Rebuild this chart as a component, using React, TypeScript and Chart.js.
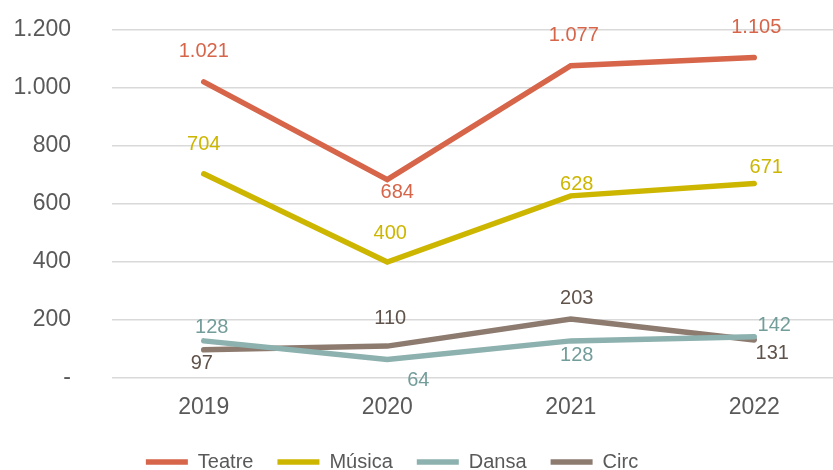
import React, { useEffect, useRef } from "react";
import { Chart, registerables } from "chart.js";

Chart.register(...registerables);

const categories = ["2019", "2020", "2021", "2022"];
const teatre = [1021, 684, 1077, 1105];
const musica = [704, 400, 628, 671];
const dansa = [128, 64, 128, 142];
const circ = [97, 110, 203, 131];
const yTicks = [0, 200, 400, 600, 800, 1000, 1200];

const FONT = "'Liberation Sans', Arial, sans-serif";

// label offsets (dx, dy) relative to each point, styling only
const labelOffsets: Record<string, [number, number][]> = {
  Teatre: [[0, -30], [10, 13], [3, -30], [2, -30]],
  "Música": [[0, -29], [3, -29], [6, -11], [12, -16]],
  Dansa: [[8, -13], [31, 21], [6, 15], [20, -11]],
  Circ: [[-2, 14], [3, -28], [6, -21], [18, 13]],
};
const labelColors: Record<string, string> = {
  Teatre: "#D6654A",
  "Música": "#CDB600",
  Dansa: "#739D9A",
  Circ: "#5F534B",
};

function fmt(v: number): string {
  const s = Math.round(v).toString();
  return s.replace(/\B(?=(\d{3})+(?!\d))/g, ".");
}

const dataLabelPlugin = {
  id: "dataLabels",
  afterDatasetsDraw(chart: any) {
    const ctx = chart.ctx;
    ctx.save();
    ctx.font = `20px ${FONT}`;
    ctx.textAlign = "center";
    ctx.textBaseline = "middle";
    chart.data.datasets.forEach((ds: any, i: number) => {
      const meta = chart.getDatasetMeta(i);
      const offs = labelOffsets[ds.label] || [];
      ctx.fillStyle = labelColors[ds.label] || "#595959";
      meta.data.forEach((pt: any, j: number) => {
        const [dx, dy] = offs[j] || [0, -20];
        ctx.fillText(fmt(ds.data[j]), pt.x + dx, pt.y + dy);
      });
    });
    ctx.restore();
  },
};

// shift the legend box so that its centre matches the reference
const legendShiftPlugin = {
  id: "legendShift",
  afterLayout(chart: any) {
    const lg = chart.legend;
    if (lg) {
      lg.right -= 62;
      lg.width -= 62;
    }
  },
};

export default function App() {
  const ref = useRef<HTMLCanvasElement>(null);
  useEffect(() => {
    if (!ref.current) return;
    const mk = (label: string, data: number[], color: string) => ({
      label,
      data,
      borderColor: color,
      backgroundColor: color,
      borderWidth: 5.5,
      pointRadius: 0,
      pointHoverRadius: 0,
      tension: 0,
      borderCapStyle: "round" as const,
      borderJoinStyle: "miter" as const,
      pointStyle: "line" as const,
    });
    const chart = new Chart(ref.current, {
      type: "line",
      data: {
        labels: categories,
        datasets: [
          mk("Teatre", teatre, "#D6654A"),
          mk("Música", musica, "#CDB600"),
          mk("Dansa", dansa, "#8CB1AE"),
          mk("Circ", circ, "#8D7B70"),
        ],
      },
      options: {
        animation: false,
        responsive: false,
        maintainAspectRatio: false,
        layout: { padding: { top: 30, right: 0, bottom: -12, left: 0 } },
        plugins: {
          tooltip: { enabled: false },
          legend: {
            position: "bottom",
            align: "center",
            labels: {
              usePointStyle: true,
              pointStyle: "line",
              pointStyleWidth: 42,
              boxHeight: 6,
              padding: 24,
              color: "#595959",
              font: { family: FONT, size: 20 },
            },
          },
        },
        scales: {
          x: {
            type: "category",
            offset: true,
            grid: { display: false, drawTicks: false },
            border: { display: false },
            ticks: {
              color: "#595959",
              font: { family: FONT, size: 23 },
              padding: 16,
              maxRotation: 0,
            },
            afterFit: (axis: any) => {
              axis.height = 50;
            },
          },
          y: {
            min: 0,
            max: 1200,
            afterBuildTicks: (axis: any) => {
              axis.ticks = yTicks.map((v) => ({ value: v }));
            },
            grid: { color: "#D9D9D9", lineWidth: 1.5, drawTicks: false },
            border: { display: false },
            ticks: {
              color: "#595959",
              font: { family: FONT, size: 23 },
              padding: 41,
              callback: (v: any) => (Number(v) === 0 ? "-" : fmt(Number(v))),
            },
            afterFit: (axis: any) => {
              axis.width = 112;
              axis.paddingTop = 0;
              axis.paddingBottom = 0;
            },
          },
        },
      },
      plugins: [dataLabelPlugin, legendShiftPlugin],
    });
    return () => chart.destroy();
  }, []);
  return (
    <div
      style={{
        position: "absolute",
        left: 0,
        top: 0,
        width: 833,
        height: 470,
        overflow: "hidden",
        background: "#fff",
      }}
    >
      <canvas ref={ref} width={846} height={470} style={{ display: "block" }} />
    </div>
  );
}
